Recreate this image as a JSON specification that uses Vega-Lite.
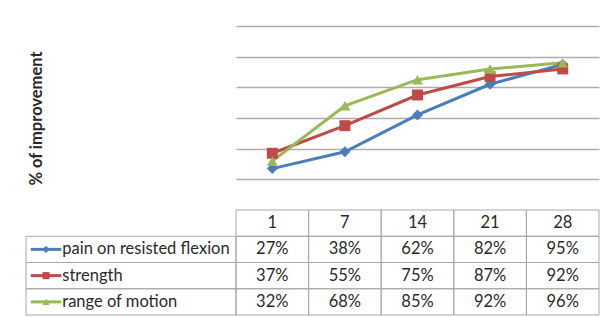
{
  "$schema": "https://vega.github.io/schema/vega-lite/v6.json",
  "padding": {"left": 25, "top": 26, "right": 3, "bottom": 2},
  "background": "white",
  "config": {"view": {"stroke": null}, "font": "Lato"},
  "bounds": "flush",
  "columns": 2,
  "spacing": 0,
  "datasets": {
    "main": [
      {"day": "1", "series": "pain on resisted flexion", "value": 0.27},
      {"day": "7", "series": "pain on resisted flexion", "value": 0.38},
      {"day": "14", "series": "pain on resisted flexion", "value": 0.62},
      {"day": "21", "series": "pain on resisted flexion", "value": 0.82},
      {"day": "28", "series": "pain on resisted flexion", "value": 0.95},
      {"day": "1", "series": "strength", "value": 0.37},
      {"day": "7", "series": "strength", "value": 0.55},
      {"day": "14", "series": "strength", "value": 0.75},
      {"day": "21", "series": "strength", "value": 0.87},
      {"day": "28", "series": "strength", "value": 0.92},
      {"day": "1", "series": "range of motion", "value": 0.32},
      {"day": "7", "series": "range of motion", "value": 0.68},
      {"day": "14", "series": "range of motion", "value": 0.85},
      {"day": "21", "series": "range of motion", "value": 0.92},
      {"day": "28", "series": "range of motion", "value": 0.96}
    ]
  },
  "concat": [
    {
      "width": 210,
      "height": 184,
      "data": {"values": []},
      "mark": {"type": "point", "opacity": 0},
      "encoding": {}
    },
    {
      "width": 363,
      "height": 184,
      "data": {"name": "main"},
      "encoding": {
        "x": {"field": "day", "type": "ordinal", "sort": ["1", "7", "14", "21", "28"], "scale": {"type": "point", "padding": 0.5}, "axis": null},
        "y": {
          "field": "value", "type": "quantitative",
          "scale": {"domain": [0, 1.2]},
          "axis": {
            "values": [0.2, 0.4, 0.6, 0.8, 1.0, 1.2],
            "labels": false, "ticks": false, "domain": false,
            "gridColor": "#b3aaaa", "gridWidth": 1.3,
            "title": "% of improvement",
            "titleX": -200, "titleY": 92, "titleAngle": -90,
            "titleAlign": "center", "titleBaseline": "middle",
            "titleFontSize": 16.5, "titleFontWeight": "bold", "titleColor": "#2a2a2a", "titleFont": "Lato"
          }
        },
        "color": {
          "field": "series", "type": "nominal",
          "scale": {"domain": ["pain on resisted flexion", "strength", "range of motion"], "range": ["#4a7ebb", "#be4b48", "#98b954"]},
          "legend": null
        }
      },
      "layer": [
        {"mark": {"type": "line", "strokeWidth": 3}},
        {
          "mark": {"type": "point", "filled": true, "size": 120, "opacity": 1},
          "encoding": {
            "shape": {"field": "series", "type": "nominal", "scale": {"domain": ["pain on resisted flexion", "strength", "range of motion"], "range": ["diamond", "square", "triangle-up"]}, "legend": null}
          }
        }
      ]
    },
    {
      "width": 210,
      "height": 105,
      "data": {"values": [{"series": "pain on resisted flexion"}, {"series": "strength"}, {"series": "range of motion"}]},
      "layer": [
        {
          "mark": {"type": "rect", "fillOpacity": 0, "stroke": "#a8a8a8", "strokeWidth": 1},
          "encoding": {
            "y": {"field": "series", "type": "nominal", "scale": {"domain": ["hdr", "pain on resisted flexion", "strength", "range of motion"], "paddingInner": 0, "paddingOuter": 0}, "axis": null}
          }
        },
        {
          "mark": {"type": "rule", "strokeWidth": 3},
          "encoding": {
            "x": {"datum": 0.5, "type": "quantitative", "scale": {"domain": [0, 21]}, "axis": null},
            "x2": {"datum": 3.7},
            "y": {"field": "series", "type": "nominal", "bandPosition": 0.5},
            "color": {"field": "series", "type": "nominal", "legend": null, "scale": {"domain": ["pain on resisted flexion", "strength", "range of motion"], "range": ["#4a7ebb", "#be4b48", "#98b954"]}}
          }
        },
        {
          "mark": {"type": "point", "filled": true, "size": 50, "opacity": 1},
          "encoding": {
            "x": {"datum": 2.1, "type": "quantitative"},
            "y": {"field": "series", "type": "nominal", "bandPosition": 0.5},
            "color": {"field": "series", "type": "nominal", "legend": null},
            "shape": {"field": "series", "type": "nominal", "legend": null, "scale": {"domain": ["pain on resisted flexion", "strength", "range of motion"], "range": ["diamond", "square", "triangle-up"]}}
          }
        },
        {
          "mark": {"type": "text", "align": "left", "baseline": "middle", "fontSize": 16.5, "color": "#2a2a2a"},
          "encoding": {
            "x": {"datum": 3.8, "type": "quantitative"},
            "y": {"field": "series", "type": "nominal", "bandPosition": 0.5},
            "text": {"field": "series"}
          }
        }
      ]
    },
    {
      "width": 363,
      "height": 105,
      "layer": [
        {
          "data": {"name": "main"},
          "mark": {"type": "rect", "fillOpacity": 0, "stroke": "#a8a8a8", "strokeWidth": 1},
          "encoding": {
            "x": {"field": "day", "type": "ordinal", "sort": ["1", "7", "14", "21", "28"], "scale": {"type": "band", "paddingInner": 0, "paddingOuter": 0}, "axis": null},
            "y": {"field": "series", "type": "nominal", "scale": {"domain": ["hdr", "pain on resisted flexion", "strength", "range of motion"], "paddingInner": 0, "paddingOuter": 0}, "axis": null}
          }
        },
        {
          "data": {"values": [{"day": "1"}, {"day": "7"}, {"day": "14"}, {"day": "21"}, {"day": "28"}]},
          "mark": {"type": "rect", "fillOpacity": 0, "stroke": "#a8a8a8", "strokeWidth": 1},
          "encoding": {
            "x": {"field": "day", "type": "ordinal", "sort": ["1", "7", "14", "21", "28"]},
            "y": {"datum": "hdr", "type": "nominal"}
          }
        },
        {
          "data": {"values": [{"day": "1"}, {"day": "7"}, {"day": "14"}, {"day": "21"}, {"day": "28"}]},
          "mark": {"type": "text", "baseline": "middle", "fontSize": 16.5, "color": "#2a2a2a"},
          "encoding": {
            "x": {"field": "day", "type": "ordinal", "sort": ["1", "7", "14", "21", "28"], "bandPosition": 0.5},
            "y": {"datum": "hdr", "type": "nominal", "bandPosition": 0.5},
            "text": {"field": "day"}
          }
        },
        {
          "data": {"name": "main"},
          "mark": {"type": "text", "baseline": "middle", "fontSize": 16.5, "color": "#2a2a2a"},
          "encoding": {
            "x": {"field": "day", "type": "ordinal", "sort": ["1", "7", "14", "21", "28"], "bandPosition": 0.5},
            "y": {"field": "series", "type": "nominal", "bandPosition": 0.5},
            "text": {"field": "value", "type": "quantitative", "format": ".0%"}
          }
        }
      ]
    }
  ]
}
